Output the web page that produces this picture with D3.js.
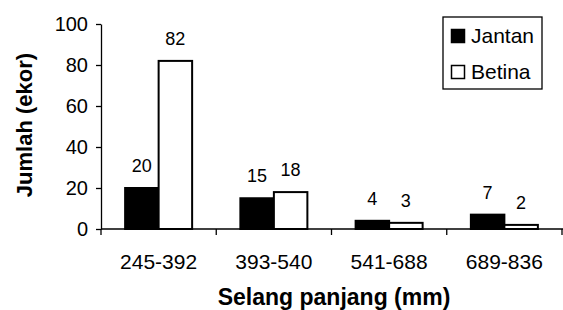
<!DOCTYPE html>
<html lang="id">
  <head>
    <meta charset="utf-8" />
    <title>Jumlah per selang panjang</title>
    <script src="https://d3js.org/d3.v7.min.js"></script>
    <style>
      html,
      body {
        margin: 0;
        padding: 0;
        background: #fff;
      }
      svg {
        display: block;
        font-family: "Liberation Sans", Arial, sans-serif;
      }
      .axis path,
      .axis line {
        stroke: #000;
        stroke-width: 1.3px;
      }
    </style>
  </head>
  <body>
    <div id="chart"></div>
    <script>
      // data
      const categories = ["245-392", "393-540", "541-688", "689-836"];
      const series = ["Jantan", "Betina"];
      const jantan = [20, 15, 4, 7];
      const betina = [82, 18, 3, 2];
      const yTicks = [0, 20, 40, 60, 80, 100];

      const width = 563;
      const height = 310;
      const margin = { top: 24, right: 1, bottom: 81, left: 101 };

      const svg = d3
        .select("#chart")
        .append("svg")
        .attr("width", width)
        .attr("height", height);

      const x = d3
        .scaleBand()
        .domain(categories)
        .range([margin.left, width - margin.right]);

      const xSub = d3
        .scaleBand()
        .domain(series)
        .range([0, x.bandwidth()])
        .paddingOuter(0.72);

      const y = d3
        .scaleLinear()
        .domain([0, 100])
        .range([height - margin.bottom, margin.top]);

      const rows = categories.map((c, i) => ({
        cat: c,
        values: [
          { key: "Jantan", value: jantan[i] },
          { key: "Betina", value: betina[i] },
        ],
      }));

      // bars
      const groups = svg
        .selectAll("g.group")
        .data(rows)
        .enter()
        .append("g")
        .attr("class", "group")
        .attr("transform", (d) => `translate(${x(d.cat)},0)`);

      groups
        .selectAll("rect")
        .data((d) => d.values)
        .enter()
        .append("rect")
        .attr("x", (d) => xSub(d.key))
        .attr("y", (d) => y(d.value))
        .attr("width", xSub.bandwidth())
        .attr("height", (d) => y(0) - y(d.value))
        .attr("fill", (d) => (d.key === "Jantan" ? "#000" : "#fff"))
        .attr("stroke", "#000")
        .attr("stroke-width", 2);

      // value labels
      groups
        .selectAll("text.val")
        .data((d) => d.values)
        .enter()
        .append("text")
        .attr("class", "val")
        .attr("x", (d) => xSub(d.key) + xSub.bandwidth() / 2)
        .attr("y", (d) => y(d.value) - 16)
        .attr("text-anchor", "middle")
        .attr("font-size", 18)
        .text((d) => d.value);

      // y axis
      const yAxis = svg
        .append("g")
        .attr("class", "axis")
        .attr("transform", `translate(${margin.left},0)`)
        .call(
          d3.axisLeft(y).tickValues(yTicks).tickSize(5).tickSizeOuter(0).tickPadding(8)
        );
      yAxis.selectAll("text").attr("font-size", 20).attr("fill", "#000");
      yAxis.attr("font-family", null);

      // x axis, ticks at band edges
      const xAxis = svg
        .append("g")
        .attr("class", "axis")
        .attr("transform", `translate(0,${y(0)})`);
      xAxis
        .append("line")
        .attr("x1", margin.left)
        .attr("x2", width)
        .attr("y1", 0)
        .attr("y2", 0);
      xAxis
        .selectAll("line.tick")
        .data(categories.map((c) => x(c)).concat([x.range()[1]]))
        .enter()
        .append("line")
        .attr("class", "tick")
        .attr("x1", (d) => d)
        .attr("x2", (d) => d)
        .attr("y1", 0)
        .attr("y2", 6);
      xAxis
        .selectAll("text")
        .data(categories)
        .enter()
        .append("text")
        .attr("x", (d) => x(d) + x.bandwidth() / 2)
        .attr("y", 40)
        .attr("text-anchor", "middle")
        .attr("font-size", 21)
        .text((d) => d);

      // axis titles
      svg
        .append("text")
        .attr("x", 334)
        .attr("y", 305)
        .attr("text-anchor", "middle")
        .attr("font-size", 23)
        .attr("font-weight", "bold")
        .text("Selang panjang (mm)");

      svg
        .append("text")
        .attr("transform", "translate(32,125) rotate(-90)")
        .attr("text-anchor", "middle")
        .attr("font-size", 22)
        .attr("font-weight", "bold")
        .text("Jumlah (ekor)");

      // legend
      const legend = svg.append("g").attr("transform", "translate(443,17)");
      legend
        .append("rect")
        .attr("width", 99)
        .attr("height", 72)
        .attr("fill", "#fff")
        .attr("stroke", "#000")
        .attr("stroke-width", 1.3);
      const items = legend
        .selectAll("g.item")
        .data(series)
        .enter()
        .append("g")
        .attr("class", "item")
        .attr("transform", (d, i) => `translate(0,${i * 36})`);
      items
        .append("rect")
        .attr("x", 8.5)
        .attr("y", 12.5)
        .attr("width", 13)
        .attr("height", 13)
        .attr("fill", (d) => (d === "Jantan" ? "#000" : "#fff"))
        .attr("stroke", "#000")
        .attr("stroke-width", 1.5);
      items
        .append("text")
        .attr("x", 28)
        .attr("y", 26)
        .attr("font-size", 21)
        .text((d) => d);
    </script>
  </body>
</html>
